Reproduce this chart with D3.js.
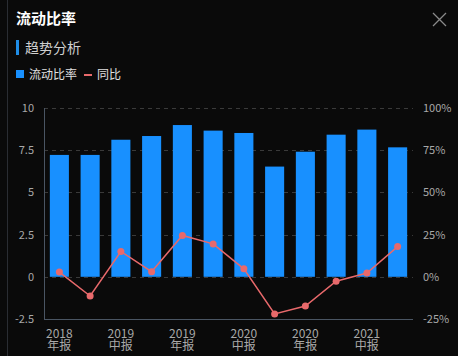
<!DOCTYPE html>
<html><head><meta charset="utf-8">
<script src="https://cdn.jsdelivr.net/npm/d3@7"></script>
<style>
html,body{margin:0;padding:0;background:#0a0a0a;}
svg{display:block;}
</style></head>
<body><svg id="c" width="458" height="356"></svg>
<script>
const categories = ["2018年报","2019一季报","2019中报","2019三季报","2019年报","2020一季报","2020中报","2020三季报","2020年报","2021一季报","2021中报","2021三季报"];
const ratioValues = [7.22,7.22,8.12,8.34,8.99,8.66,8.52,6.53,7.41,8.42,8.72,7.67];
const yoyValues = [2.8,-11.4,15.0,3.0,24.5,19.5,4.7,-22.0,-17.3,-2.6,2.2,17.9];
const leftTicks = [-2.5,0,2.5,5,7.5,10];
const rightTicks = [-25,0,25,50,75,100];

const svg = d3.select("#c");
const font = "'Noto Sans CJK SC', 'Noto Sans', sans-serif";
const m = {l:44, r:413, t:108, b:319};

// left border line
svg.append("line").attr("x1",7.5).attr("x2",7.5).attr("y1",0).attr("y2",356).attr("stroke","#2a2d33").attr("stroke-width",1);

// title
svg.append("text").attr("x",16).attr("y",24).text("流动比率").attr("fill","#fff").attr("font-size",15).attr("font-weight","bold").attr("font-family",font);
// close
svg.append("path").attr("d","M433,13L446,26M446,13L433,26").attr("stroke","#8a8a8a").attr("stroke-width",1.3);
// subtitle
svg.append("rect").attr("x",16).attr("y",40).attr("width",3).attr("height",15).attr("fill","#1f8ee8");
svg.append("text").attr("x",25).attr("y",53).text("趋势分析").attr("fill","#d0d0d0").attr("font-size",14).attr("font-family",font);
// legend
svg.append("rect").attr("x",16).attr("y",70).attr("width",8).attr("height",8).attr("fill","#1890ff");
svg.append("text").attr("x",29).attr("y",79).text("流动比率").attr("fill","#e0e0e0").attr("font-size",12).attr("font-family",font);
svg.append("rect").attr("x",84).attr("y",74).attr("width",8).attr("height",2).attr("fill","#e8696b");
svg.append("text").attr("x",97).attr("y",79).text("同比").attr("fill","#e0e0e0").attr("font-size",12).attr("font-family",font);

const x = d3.scaleBand().domain(categories).range([m.l, m.r]).paddingInner(0.38).paddingOuter(0.19);
const yL = d3.scaleLinear().domain([-2.5,10]).range([m.b, m.t]);
const yR = d3.scaleLinear().domain([-25,100]).range([m.b, m.t]);

// grid
svg.append("g").selectAll("line").data(leftTicks.filter(d=>d!==-2.5)).join("line")
  .attr("x1",m.l).attr("x2",m.r).attr("y1",d=>Math.round(yL(d))+0.5).attr("y2",d=>Math.round(yL(d))+0.5)
  .attr("stroke","#3a3a3a").attr("stroke-dasharray","4,4");

// bars
svg.append("g").selectAll("rect").data(ratioValues).join("rect")
  .attr("x",(d,i)=>x(categories[i])).attr("width",x.bandwidth())
  .attr("y",d=>yL(d)).attr("height",d=>yL(0)-yL(d)).attr("fill","#1890ff");

// axes lines
svg.append("line").attr("x1",m.l+0.5).attr("x2",m.l+0.5).attr("y1",m.t).attr("y2",m.b).attr("stroke","#4a5563");
svg.append("line").attr("x1",m.l).attr("x2",m.r).attr("y1",m.b+0.5).attr("y2",m.b+0.5).attr("stroke","#4a5563");

// left tick labels
svg.append("g").selectAll("text").data(leftTicks).join("text")
  .attr("x",34).attr("y",d=>yL(d)+4).attr("text-anchor","end").text(d=>d)
  .attr("fill","#a8a8a8").attr("font-size",11).attr("font-family",font);
// right tick labels
svg.append("g").selectAll("text").data(rightTicks).join("text")
  .attr("x",423).attr("y",d=>yR(d)+4).attr("text-anchor","start").text(d=>d+"%")
  .attr("fill","#a8a8a8").attr("font-size",11).attr("font-family",font);

// x labels (two lines)
const shown = categories.filter((d,i)=>i%2===0);
const cx = d=>x(d)+x.bandwidth()/2;
svg.append("g").selectAll("text").data(shown).join("text")
  .attr("x",cx).attr("y",338).attr("text-anchor","middle").text(d=>d.slice(0,4))
  .attr("fill","#a8a8a8").attr("font-size",12).attr("font-family",font);
svg.append("g").selectAll("text").data(shown).join("text")
  .attr("x",cx).attr("y",350).attr("text-anchor","middle").text(d=>d.slice(4))
  .attr("fill","#a8a8a8").attr("font-size",12).attr("font-family",font);

// line
const line = d3.line().x((d,i)=>cx(categories[i])).y(d=>yR(d));
svg.append("path").datum(yoyValues).attr("d",line).attr("fill","none").attr("stroke","#e8696b").attr("stroke-width",1.5);
svg.append("g").selectAll("circle").data(yoyValues).join("circle")
  .attr("cx",(d,i)=>cx(categories[i])).attr("cy",d=>yR(d)).attr("r",3.5).attr("fill","#e8696b");
</script></body></html>
